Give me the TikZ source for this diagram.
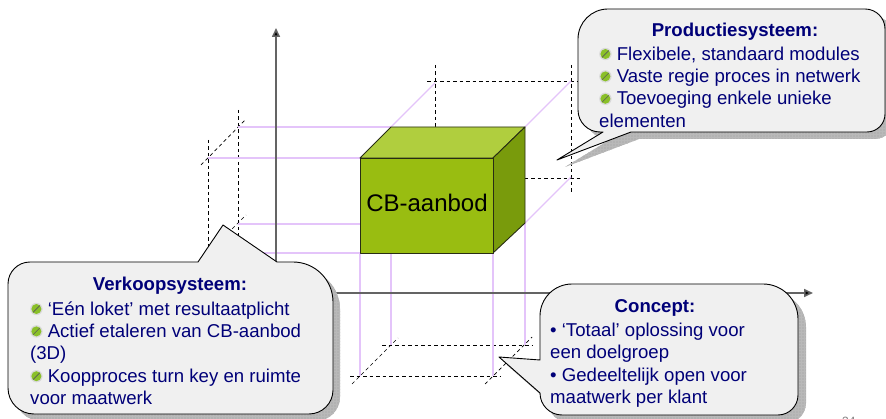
\documentclass[tikz,border=0pt]{standalone}
\usepackage{fontspec}
\setmainfont{Liberation Sans}
\usetikzlibrary{arrows.meta,patterns}
\definecolor{navytxt}{RGB}{0,0,120}
\definecolor{boxfill}{RGB}{240,240,240}
\definecolor{pinkl}{RGB}{228,196,250}
\definecolor{cubefront}{RGB}{153,189,17}
\definecolor{cubetop}{RGB}{176,206,62}
\definecolor{cuberight}{RGB}{121,155,12}
\definecolor{bulgreen}{RGB}{138,192,40}
\definecolor{axisgray}{RGB}{100,100,100}
\newcommand\gbul{\tikz[baseline={(0pt,-6.2pt)}]{\fill[gray!30] (0pt,0pt) circle (6.2pt);\fill[bulgreen] (0pt,0pt) circle (5pt);\draw[gray!70!black,line width=0.6pt] (-3.3pt,-3.3pt) -- (3.3pt,3.3pt);}}
\newcommand\topstrut{\rule{0pt}{18pt}}
\tikzset{
  pinkline/.style={draw=pinkl, line width=1.1pt},
  dashln/.style={draw=black, line width=0.7pt, dash pattern=on 3.5pt off 3pt},
  axisline/.style={draw=axisgray, line width=1.6pt, -{Triangle[length=9pt,width=8pt,fill=black]}},
  cubeface/.style={draw={rgb,255:red,40;green,45;blue,20}, line width=0.9pt, line join=round},
  callout/.style={fill=boxfill, draw=black, line width=0.9pt, line join=round},
  shadowfill/.style={fill={rgb,255:red,178;green,178;blue,178}},
  shadowgrid/.style={pattern=grid, pattern color=gray!55},
  txt/.style={text=navytxt, font=\fontsize{18.6}{22.4}\selectfont, inner sep=0pt, align=left, anchor=north west},
  ttl/.style={text=navytxt, font=\fontsize{18.6}{22.4}\selectfont\bfseries, inner sep=0pt, anchor=base},
  Ppath/.style={insert path={(608,9) -- (865,9) arc (270:360:20) -- (885,114) arc (0:90:18) -- (631,132) -- (557,160) -- (603,132) -- (600,132) arc (90:180:22) -- (578,39) arc (180:270:30) -- cycle}},
  Vpath/.style={insert path={(30,262) -- (198,262) -- (223,225) -- (277,262) -- (293,262) arc (270:360:40) -- (333,390) arc (0:90:24) -- (34,414) arc (90:180:26) -- (8,284) arc (180:270:22) -- cycle}},
  Cpath/.style={insert path={(572,284) -- (763,284) arc (270:360:35) -- (798,395) arc (0:90:20) -- (562,415) arc (90:180:22) -- (499,357) -- (540,360) -- (540,316) arc (180:270:32) -- cycle}},
}
\begin{document}
\begin{tikzpicture}[x=1pt,y=-1pt]
\useasboundingbox (0,0) rectangle (886,419);
\fill[white] (0,0) rectangle (886,419);
% dashed projection walls
\draw[dashln] (208,140) -- (208,270);
\draw[dashln] (238,110) -- (238,235);
\draw[dashln] (201,165) -- (246,119);
\draw[dashln] (200,261) -- (246,215);
\draw[dashln] (435,65) -- (435,190);
\draw[dashln] (571,65) -- (571,194);
\draw[dashln] (427,81) -- (580,81);
\draw[dashln] (427,178) -- (580,178);
\draw[dashln] (382,345) -- (533,345);
\draw[dashln] (350,376) -- (500,376);
\draw[dashln] (352,384) -- (398,338);
\draw[dashln] (485,384) -- (532,337);
% cube corners
\coordinate (A) at (360,158);
\coordinate (B) at (493,158);
\coordinate (C) at (493,253);
\coordinate (D) at (360,253);
\coordinate (Ab) at (391,127);
\coordinate (Bb) at (525,127);
\coordinate (Cb) at (525,223);
\coordinate (Db) at (391,223);
% pink projection lines
\draw[pinkline] (238,127) -- (Ab);
\draw[pinkline] (208,158) -- (A);
\draw[pinkline] (238,224) -- (360,224);
\draw[pinkline] (208,253) -- (D);
\draw[pinkline] (Ab) -- (435,83);
\draw[pinkline] (Bb) -- (571,81);
\draw[pinkline] (Cb) -- (571,177);
\draw[pinkline] (D) -- (360,376);
\draw[pinkline] (Db) -- (391,345);
\draw[pinkline] (C) -- (493,376);
\draw[pinkline] (Cb) -- (525,345);
% axes
\coordinate (O) at (276,293);
\coordinate (Ytop) at (276,28);
\coordinate (Xend) at (813,293);
\draw[axisline] (O) -- (Ytop);
\draw[axisline] (O) -- (Xend);
% cube
\filldraw[cubeface, fill=cubetop] (A) -- (Ab) -- (Bb) -- (B) -- cycle;
\filldraw[cubeface, fill=cuberight] (B) -- (Bb) -- (Cb) -- (C) -- cycle;
\filldraw[cubeface, fill=cubefront] (A) -- (B) -- (C) -- (D) -- cycle;
\node[inner sep=0pt, anchor=base, font=\fontsize{24}{28}\selectfont] (cb) at (427,212) {CB-aanbod};
% page number (clipped)
\node[inner sep=0pt, anchor=base west, text=gray, font=\fontsize{12}{14}\selectfont] (pnum) at (842,425) {34};
% callout shadows
\path[shadowfill, shift={(8,7)}] [Ppath];
\path[shadowgrid, shift={(8,7)}] [Ppath];
\path[shadowfill, shift={(7,7)}] [Vpath];
\path[shadowgrid, shift={(7,7)}] [Vpath];
\path[shadowfill, shift={(8,8)}] [Cpath];
\path[shadowgrid, shift={(8,8)}] [Cpath];
% callouts
\path[callout] [Ppath];
\path[callout] [Vpath];
\path[callout] [Cpath];
% texts
\node[ttl] (ptitle) at (735,37) {Productiesysteem:};
\node[txt] (pbody) at (599,42) {\topstrut\gbul{} Flexibele, standaard modules\\\gbul{} Vaste regie proces in netwerk\\\gbul{} Toevoeging enkele unieke\\elementen};
\node[ttl] (vtitle) at (170,291) {Verkoopsysteem:};
\node[txt] (vbody) at (30,297) {\topstrut\gbul{} ‘Eén loket’ met resultaatplicht\\\gbul{} Actief etaleren van CB-aanbod\\(3D)\\\gbul{} Koopproces turn key en ruimte\\voor maatwerk};
\node[ttl] (ctitle) at (655,313) {Concept:};
\node[txt] (cbody) at (550,318) {\topstrut• ‘Totaal’ oplossing voor\\een doelgroep\\• Gedeeltelijk open voor\\maatwerk per klant};
\end{tikzpicture}
\end{document}
